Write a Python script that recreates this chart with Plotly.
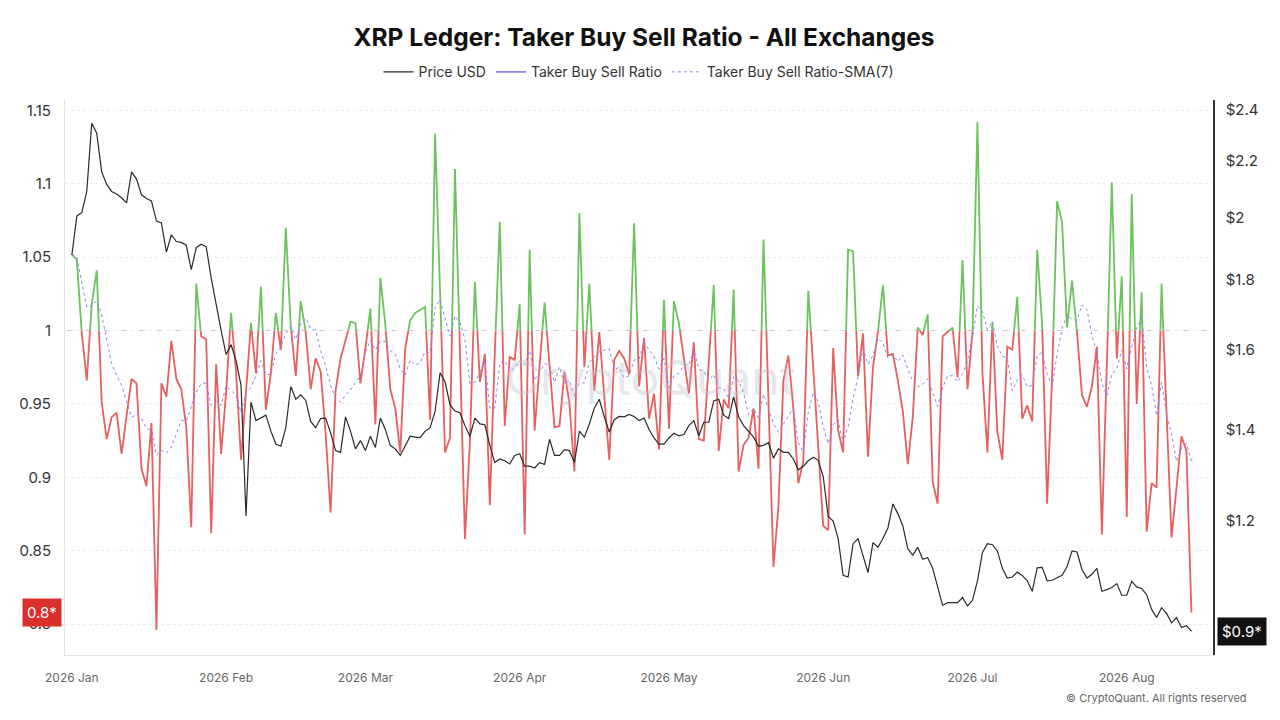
import numpy as np
import pandas as pd
import plotly.graph_objects as go

# daily values, 2026-01-01 .. 2026-08-14
start_date = "2026-01-01"

ratio = [
    1.052, 1.048, 0.998, 0.966, 1.018, 1.041, 0.951, 0.926, 0.941, 0.944,
    0.916, 0.942, 0.967, 0.964, 0.906, 0.894, 0.937, 0.796, 0.964, 0.955,
    0.993, 0.967, 0.960, 0.934, 0.866, 1.032, 0.996, 0.994, 0.862, 0.977,
    0.916, 0.958, 1.012, 0.972, 0.912, 0.955, 1.005, 0.971, 1.030, 0.946,
    0.971, 1.012, 0.987, 1.070, 1.003, 0.969, 1.020, 0.999, 0.960, 0.981,
    0.972, 0.930, 0.876, 0.959, 0.981, 0.993, 1.006, 1.005, 0.964, 0.988,
    1.015, 0.936, 1.036, 1.004, 0.960, 0.947, 0.917, 0.988, 1.007, 1.012,
    1.014, 1.016, 0.939, 1.134, 1.026, 0.917, 0.927, 1.110, 0.985, 0.858,
    0.924, 1.033, 0.965, 0.984, 0.881, 0.985, 1.074, 0.935, 0.982, 0.980,
    1.018, 0.861, 1.055, 0.932, 0.976, 1.019, 0.976, 0.934, 0.935, 0.972,
    0.950, 0.904, 1.080, 0.975, 1.032, 0.959, 0.999, 0.957, 0.912, 0.980,
    0.986, 0.981, 0.970, 1.073, 0.962, 0.995, 0.940, 0.957, 0.919, 1.021,
    0.933, 1.020, 1.005, 0.981, 0.957, 0.992, 0.926, 0.925, 0.978, 1.031,
    0.918, 0.953, 0.947, 1.028, 0.904, 0.922, 0.927, 0.947, 0.906, 1.062,
    0.954, 0.839, 0.880, 0.966, 0.983, 0.947, 0.896, 0.911, 1.027, 0.975,
    0.920, 0.867, 0.864, 0.988, 0.932, 0.917, 1.055, 1.054, 0.969, 0.998,
    0.914, 0.975, 0.999, 1.031, 0.983, 0.984, 0.966, 0.945, 0.909, 0.941,
    1.002, 0.997, 1.011, 0.897, 0.882, 0.996, 0.999, 1.002, 0.968, 1.048,
    0.960, 0.999, 1.142, 0.971, 0.917, 1.006, 0.931, 0.912, 0.989, 0.987,
    1.023, 0.940, 0.949, 0.938, 1.055, 1.004, 0.882, 0.969, 1.088, 1.074,
    1.002, 1.034, 0.999, 0.956, 0.948, 0.962, 0.989, 0.861, 0.975, 1.101,
    0.981, 1.037, 0.873, 1.093, 0.950, 1.026, 0.863, 0.896, 0.893, 1.032,
    0.939, 0.859, 0.893, 0.928, 0.918, 0.808,
]

price = [
    1.878, 2.005, 2.017, 2.090, 2.344, 2.305, 2.160, 2.115, 2.090, 2.081,
    2.068, 2.050, 2.160, 2.134, 2.078, 2.065, 2.057, 1.988, 1.982, 1.887,
    1.943, 1.921, 1.918, 1.909, 1.832, 1.901, 1.912, 1.904, 1.807, 1.723,
    1.654, 1.588, 1.615, 1.572, 1.508, 1.210, 1.466, 1.421, 1.427, 1.434,
    1.396, 1.366, 1.361, 1.404, 1.505, 1.473, 1.484, 1.470, 1.419, 1.404,
    1.426, 1.427, 1.392, 1.351, 1.347, 1.430, 1.396, 1.355, 1.374, 1.351,
    1.384, 1.358, 1.427, 1.400, 1.363, 1.355, 1.340, 1.363, 1.384, 1.382,
    1.381, 1.396, 1.404, 1.443, 1.540, 1.517, 1.459, 1.444, 1.440, 1.409,
    1.384, 1.427, 1.413, 1.411, 1.363, 1.324, 1.332, 1.328, 1.321, 1.340,
    1.344, 1.316, 1.316, 1.312, 1.324, 1.320, 1.377, 1.340, 1.340, 1.353,
    1.351, 1.324, 1.396, 1.382, 1.413, 1.451, 1.473, 1.430, 1.394, 1.423,
    1.431, 1.430, 1.436, 1.431, 1.421, 1.427, 1.400, 1.380, 1.366, 1.366,
    1.380, 1.391, 1.385, 1.388, 1.409, 1.421, 1.385, 1.417, 1.417, 1.469,
    1.473, 1.434, 1.426, 1.479, 1.430, 1.409, 1.396, 1.382, 1.361, 1.363,
    1.369, 1.334, 1.355, 1.347, 1.347, 1.332, 1.308, 1.316, 1.328, 1.336,
    1.329, 1.293, 1.209, 1.200, 1.165, 1.095, 1.092, 1.155, 1.165, 1.131,
    1.100, 1.157, 1.148, 1.165, 1.186, 1.235, 1.215, 1.190, 1.145, 1.133,
    1.148, 1.125, 1.128, 1.108, 1.075, 1.041, 1.046, 1.046, 1.046, 1.055,
    1.040, 1.050, 1.085, 1.138, 1.155, 1.153, 1.141, 1.108, 1.090, 1.092,
    1.101, 1.095, 1.085, 1.066, 1.109, 1.110, 1.085, 1.086, 1.090, 1.095,
    1.111, 1.141, 1.139, 1.106, 1.090, 1.097, 1.108, 1.066, 1.069, 1.073,
    1.080, 1.059, 1.059, 1.084, 1.074, 1.071, 1.060, 1.034, 1.020, 1.037,
    1.027, 1.011, 1.020, 1.003, 1.006, 0.997,
]

left_ticks = [0.8, 0.85, 0.9, 0.95, 1.0, 1.05, 1.1, 1.15]
left_labels = ["0.8", "0.85", "0.9", "0.95", "1", "1.05", "1.1", "1.15"]
right_ticks = [1.2, 1.4, 1.6, 1.8, 2.0, 2.2, 2.4]
right_labels = ["$1.2", "$1.4", "$1.6", "$1.8", "$2", "$2.2", "$2.4"]

GREEN = "#6cc25c"
RED = "#e5605e"
PURPLE = "#8d84f5"
FONT = "Inter"

dates = pd.date_range(start_date, periods=len(ratio), freq="D")
sma7 = pd.Series(ratio).rolling(7, min_periods=1).mean()

# split ratio line into above / below 1 parts, inserting the crossing points
pts = []
for i in range(len(ratio)):
    if i > 0 and (ratio[i - 1] - 1) * (ratio[i] - 1) < 0:
        f = (1 - ratio[i - 1]) / (ratio[i] - ratio[i - 1])
        pts.append((dates[i - 1] + (dates[i] - dates[i - 1]) * f, 1.0))
    pts.append((dates[i], ratio[i]))
px = [p[0] for p in pts]
green_y = [y if y >= 1 else None for _, y in pts]
red_y = [y if y <= 1 else None for _, y in pts]

fig = go.Figure()
fig.add_trace(go.Scatter(x=dates, y=price, name="Price USD", yaxis="y2",
                         mode="lines", line=dict(color="#2a2a2a", width=1.2)))
fig.add_trace(go.Scatter(x=px, y=red_y, mode="lines", showlegend=False,
                         line=dict(color=RED, width=1.8), connectgaps=False))
fig.add_trace(go.Scatter(x=px, y=green_y, mode="lines", showlegend=False,
                         line=dict(color=GREEN, width=1.8), connectgaps=False))
fig.add_trace(go.Scatter(x=[None], y=[None], mode="lines", name="Taker Buy Sell Ratio",
                         line=dict(color=PURPLE, width=1.8)))
fig.add_trace(go.Scatter(x=dates, y=sma7, mode="lines", name="Taker Buy Sell Ratio-SMA(7)",
                         line=dict(color=PURPLE, width=1, dash="dot")))

fig.add_hline(y=1, line=dict(color="#c4c4c4", width=1, dash="dash"), layer="below")

# page body adds an 8px margin, so the figure is 8px smaller than the window
fig.update_layout(
    width=1272, height=712,
    paper_bgcolor="white", plot_bgcolor="white",
    margin=dict(l=57, r=67, t=92, b=65),
    font=dict(family=FONT, color="#333"),
    title=dict(text="<b>XRP Ledger: Taker Buy Sell Ratio - All Exchanges</b>",
               x=0.5, xanchor="center", y=0.959, yanchor="middle",
               font=dict(size=24.5, color="#111", family=FONT)),
    legend=dict(orientation="h", x=0.5, xanchor="center", y=1.05, yanchor="middle",
                font=dict(size=14, color="#333"), itemwidth=30, bgcolor="rgba(0,0,0,0)"),
    xaxis=dict(type="date", range=["2025-12-30 15:00", "2026-08-18 08:00"],
               dtick="M1", tick0="2026-01-01", tickformat="%Y %b",
               tickfont=dict(size=12, color="#666"), showgrid=False,
               showline=True, linecolor="#e2e2e2", zeroline=False,
               ticks="outside", ticklen=12, tickcolor="rgba(0,0,0,0)"),
    yaxis=dict(range=[0.779, 1.157], tickvals=left_ticks, ticktext=left_labels,
               tickfont=dict(size=15, color="#333"), showgrid=True,
               gridcolor="#ececf2", griddash="dot", showline=True,
               linecolor="#e0e0e8", linewidth=1, zeroline=False,
               ticks="outside", ticklen=10, tickcolor="rgba(0,0,0,0)"),
    yaxis2=dict(type="log", range=[-0.0188, 0.387], overlaying="y", side="right",
                tickvals=right_ticks, ticktext=right_labels,
                tickfont=dict(size=15, color="#333"), showgrid=False,
                showline=True, linecolor="#333", linewidth=1.5, zeroline=False,
                ticks="outside", ticklen=8, tickcolor="rgba(0,0,0,0)"),
    showlegend=True,
)

# watermark
fig.add_annotation(text="CryptoQuant", xref="paper", yref="paper", x=0.51, y=0.5,
                   showarrow=False, font=dict(size=48, color="rgba(190,190,205,0.38)", family=FONT))
# footer
fig.add_annotation(text="© CryptoQuant. All rights reserved", xref="paper", yref="paper",
                   x=1.031, y=-0.078, xanchor="right", yanchor="middle", showarrow=False,
                   font=dict(size=11, color="#666"))
# last value badges
fig.add_annotation(text="%.1f*" % ratio[-1], xref="paper", yref="y", x=0, y=ratio[-1],
                   xanchor="right", xshift=-3, showarrow=False, bgcolor="#d9302c",
                   borderpad=4, font=dict(size=15, color="white"))
fig.add_annotation(text="$%.1f*" % (int(price[-1] * 10) / 10), xref="paper", yref="y2",
                   x=1, y=np.log10(price[-1]), xanchor="left", xshift=4, showarrow=False,
                   bgcolor="#111", borderpad=4, font=dict(size=15, color="white"))

fig.write_html("out.html")
